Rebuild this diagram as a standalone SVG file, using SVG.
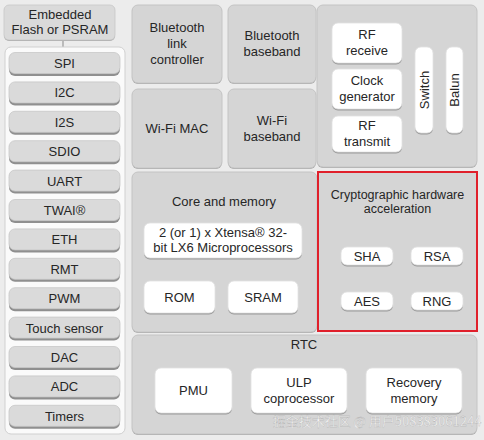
<svg xmlns="http://www.w3.org/2000/svg" width="484" height="440" viewBox="0 0 484 440">
<style>
text{font-family:"Liberation Sans",Arial,sans-serif;font-size:13px;fill:#262626;text-anchor:middle}
.panel{fill:#d5d5d5;stroke:#c4c4c4;stroke-width:1}
.pshadow{fill:#a9a9a9}
.btn{fill:#dadada;stroke:#c8c8c8;stroke-width:0.8}
.bshadow{fill:#8f8f8f}
.wbox{fill:#ffffff;stroke:#e2e2e2;stroke-width:0.8}
.wshadow{fill:#9a9a9a}
.red{fill:#d5d5d5;stroke:#e0202b;stroke-width:2}
</style>
<rect x="0" y="0" width="484" height="440" fill="#ececec"/>
<g id="connectors">
<line x1="63" y1="40" x2="63" y2="48" stroke="#9a9a9a" stroke-width="1.2"/>
</g>
<g id="embedded">
<rect class="pshadow" x="4" y="6" width="111" height="35" rx="5"/>
<rect class="btn" x="4" y="5" width="111" height="35" rx="5"/>
<text x="60" y="19">Embedded</text>
<text x="60" y="34">Flash or PSRAM</text>
</g>
<g id="peripherals">
<rect x="5" y="47" width="120" height="387" rx="6" fill="#fafafa" stroke="#d0d0d0"/>
</g>
<g id="periph-buttons">
<g id="spi"><rect class="bshadow" x="9" y="54" width="111" height="22" rx="6"/><rect class="btn" x="9" y="52.5" width="111" height="21" rx="6"/><text x="64.5" y="68">SPI</text></g>
<g id="i2c"><rect class="bshadow" x="9" y="83.4" width="111" height="22" rx="6"/><rect class="btn" x="9" y="81.9" width="111" height="21" rx="6"/><text x="64.5" y="97.4">I2C</text></g>
<g id="i2s"><rect class="bshadow" x="9" y="112.8" width="111" height="22" rx="6"/><rect class="btn" x="9" y="111.3" width="111" height="21" rx="6"/><text x="64.5" y="126.8">I2S</text></g>
<g id="sdio"><rect class="bshadow" x="9" y="142.2" width="111" height="22" rx="6"/><rect class="btn" x="9" y="140.7" width="111" height="21" rx="6"/><text x="64.5" y="156.2">SDIO</text></g>
<g id="uart"><rect class="bshadow" x="9" y="171.6" width="111" height="22" rx="6"/><rect class="btn" x="9" y="170.1" width="111" height="21" rx="6"/><text x="64.5" y="185.6">UART</text></g>
<g id="twai"><rect class="bshadow" x="9" y="201" width="111" height="22" rx="6"/><rect class="btn" x="9" y="199.5" width="111" height="21" rx="6"/><text x="64.5" y="215">TWAI®</text></g>
<g id="eth"><rect class="bshadow" x="9" y="230.4" width="111" height="22" rx="6"/><rect class="btn" x="9" y="228.9" width="111" height="21" rx="6"/><text x="64.5" y="244.4">ETH</text></g>
<g id="rmt"><rect class="bshadow" x="9" y="259.8" width="111" height="22" rx="6"/><rect class="btn" x="9" y="258.3" width="111" height="21" rx="6"/><text x="64.5" y="273.8">RMT</text></g>
<g id="pwm"><rect class="bshadow" x="9" y="289.2" width="111" height="22" rx="6"/><rect class="btn" x="9" y="287.7" width="111" height="21" rx="6"/><text x="64.5" y="303.2">PWM</text></g>
<g id="touch"><rect class="bshadow" x="9" y="318.6" width="111" height="22" rx="6"/><rect class="btn" x="9" y="317.1" width="111" height="21" rx="6"/><text x="64.5" y="332.6">Touch sensor</text></g>
<g id="dac"><rect class="bshadow" x="9" y="348" width="111" height="22" rx="6"/><rect class="btn" x="9" y="346.5" width="111" height="21" rx="6"/><text x="64.5" y="362">DAC</text></g>
<g id="adc"><rect class="bshadow" x="9" y="377.4" width="111" height="22" rx="6"/><rect class="btn" x="9" y="375.9" width="111" height="21" rx="6"/><text x="64.5" y="391.4">ADC</text></g>
<g id="timers"><rect class="bshadow" x="9" y="406.8" width="111" height="22" rx="6"/><rect class="btn" x="9" y="405.3" width="111" height="21" rx="6"/><text x="64.5" y="420.8">Timers</text></g>
</g>
<g id="bt-link">
<rect class="pshadow" x="132" y="6" width="90" height="78" rx="6"/>
<rect class="panel" x="132" y="5" width="90" height="78" rx="6"/>
<text x="177" y="32">Bluetooth</text><text x="177" y="48">link</text><text x="177" y="64">controller</text>
</g>
<g id="bt-baseband">
<rect class="pshadow" x="228" y="6" width="88" height="78" rx="6"/>
<rect class="panel" x="228" y="5" width="88" height="78" rx="6"/>
<text x="272" y="40">Bluetooth</text><text x="272" y="56">baseband</text>
</g>
<g id="wifi-mac">
<rect class="pshadow" x="132" y="90" width="90" height="79" rx="6"/>
<rect class="panel" x="132" y="89" width="90" height="79" rx="6"/>
<text x="177" y="133">Wi-Fi MAC</text>
</g>
<g id="wifi-baseband">
<rect class="pshadow" x="228" y="90" width="88" height="79" rx="6"/>
<rect class="panel" x="228" y="89" width="88" height="79" rx="6"/>
<text x="272" y="125">Wi-Fi</text><text x="272" y="141">baseband</text>
</g>
<g id="rf">
<rect class="pshadow" x="317" y="6" width="160" height="162" rx="6"/>
<rect class="panel" x="317" y="5" width="160" height="162" rx="6"/>
</g>
<g id="rf-receive">
<rect class="wshadow" x="332" y="24.5" width="70" height="40" rx="6"/>
<rect class="wbox" x="332" y="23" width="70" height="40" rx="6"/>
<text x="367" y="39">RF</text><text x="367" y="55">receive</text>
</g>
<g id="clock">
<rect class="wshadow" x="332" y="70.5" width="70" height="40" rx="6"/>
<rect class="wbox" x="332" y="69" width="70" height="40" rx="6"/>
<text x="367" y="85">Clock</text><text x="367" y="101">generator</text>
</g>
<g id="rf-transmit">
<rect class="wshadow" x="332" y="117.5" width="70" height="36" rx="6"/>
<rect class="wbox" x="332" y="116" width="70" height="36" rx="6"/>
<text x="367" y="130">RF</text><text x="367" y="146">transmit</text>
</g>
<g id="switch">
<rect class="wshadow" x="415" y="48.5" width="18" height="86" rx="6"/>
<rect class="wbox" x="415" y="47" width="18" height="86" rx="6"/>
<text transform="translate(428.5 90) rotate(-90)" x="0" y="0">Switch</text>
</g>
<g id="balun">
<rect class="wshadow" x="446" y="48.5" width="17" height="86" rx="6"/>
<rect class="wbox" x="446" y="47" width="17" height="86" rx="6"/>
<text transform="translate(459 90) rotate(-90)" x="0" y="0">Balun</text>
</g>
<g id="core">
<rect class="pshadow" x="132" y="173" width="185" height="160" rx="6"/>
<rect class="panel" x="132" y="172" width="185" height="160" rx="6"/>
<text x="224" y="206">Core and memory</text>
</g>
<g id="cpu">
<rect class="wshadow" x="144" y="224.5" width="158" height="35" rx="6"/>
<rect class="wbox" x="144" y="223" width="158" height="35" rx="6"/>
<text x="223" y="237">2 (or 1) x Xtensa® 32-</text><text x="223" y="252">bit LX6 Microprocessors</text>
</g>
<g id="rom">
<rect class="wshadow" x="144" y="282.5" width="71" height="32" rx="6"/>
<rect class="wbox" x="144" y="281" width="71" height="32" rx="6"/>
<text x="179.5" y="302">ROM</text>
</g>
<g id="sram">
<rect class="wshadow" x="228" y="282.5" width="70" height="32" rx="6"/>
<rect class="wbox" x="228" y="281" width="70" height="32" rx="6"/>
<text x="263" y="302">SRAM</text>
</g>
<g id="crypto">
<rect class="red" x="318" y="172" width="159" height="159"/>
<text x="397.5" y="199" style="font-size:12.5px">Cryptographic hardware</text><text x="397.5" y="213" style="font-size:12.5px">acceleration</text>
</g>
<g id="sha">
<rect class="wshadow" x="341" y="248.5" width="52" height="18" rx="6"/>
<rect class="wbox" x="341" y="247" width="52" height="18" rx="6"/>
<text x="367" y="261">SHA</text>
</g>
<g id="rsa">
<rect class="wshadow" x="411" y="248.5" width="52" height="18" rx="6"/>
<rect class="wbox" x="411" y="247" width="52" height="18" rx="6"/>
<text x="437" y="261">RSA</text>
</g>
<g id="aes">
<rect class="wshadow" x="341" y="293.5" width="52" height="18" rx="6"/>
<rect class="wbox" x="341" y="292" width="52" height="18" rx="6"/>
<text x="367" y="306">AES</text>
</g>
<g id="rng">
<rect class="wshadow" x="411" y="293.5" width="52" height="18" rx="6"/>
<rect class="wbox" x="411" y="292" width="52" height="18" rx="6"/>
<text x="437" y="306">RNG</text>
</g>
<g id="rtc">
<rect class="pshadow" x="132" y="336" width="345" height="99" rx="6"/>
<rect class="panel" x="132" y="335" width="345" height="99" rx="6"/>
<text x="304" y="349">RTC</text>
</g>
<g id="pmu">
<rect class="wshadow" x="155" y="369.5" width="77" height="45" rx="6"/>
<rect class="wbox" x="155" y="368" width="77" height="45" rx="6"/>
<text x="193.5" y="395">PMU</text>
</g>
<g id="ulp">
<rect class="wshadow" x="251" y="369.5" width="96" height="45" rx="6"/>
<rect class="wbox" x="251" y="368" width="96" height="45" rx="6"/>
<text x="299" y="387">ULP</text><text x="299" y="403">coprocessor</text>
</g>
<g id="recovery">
<rect class="wshadow" x="366" y="369.5" width="96" height="45" rx="6"/>
<rect class="wbox" x="366" y="368" width="96" height="45" rx="6"/>
<text x="414" y="387">Recovery</text><text x="414" y="403">memory</text>
</g>
<text x="377" y="426" style="font-family:'Noto Sans CJK SC','Liberation Sans',sans-serif;font-size:13px;fill:#ffffff;fill-opacity:0.9;stroke:#8a8a8a;stroke-width:0.35;stroke-opacity:0.6">掘金技术社区 @ 用户508383061244</text>
</svg>
